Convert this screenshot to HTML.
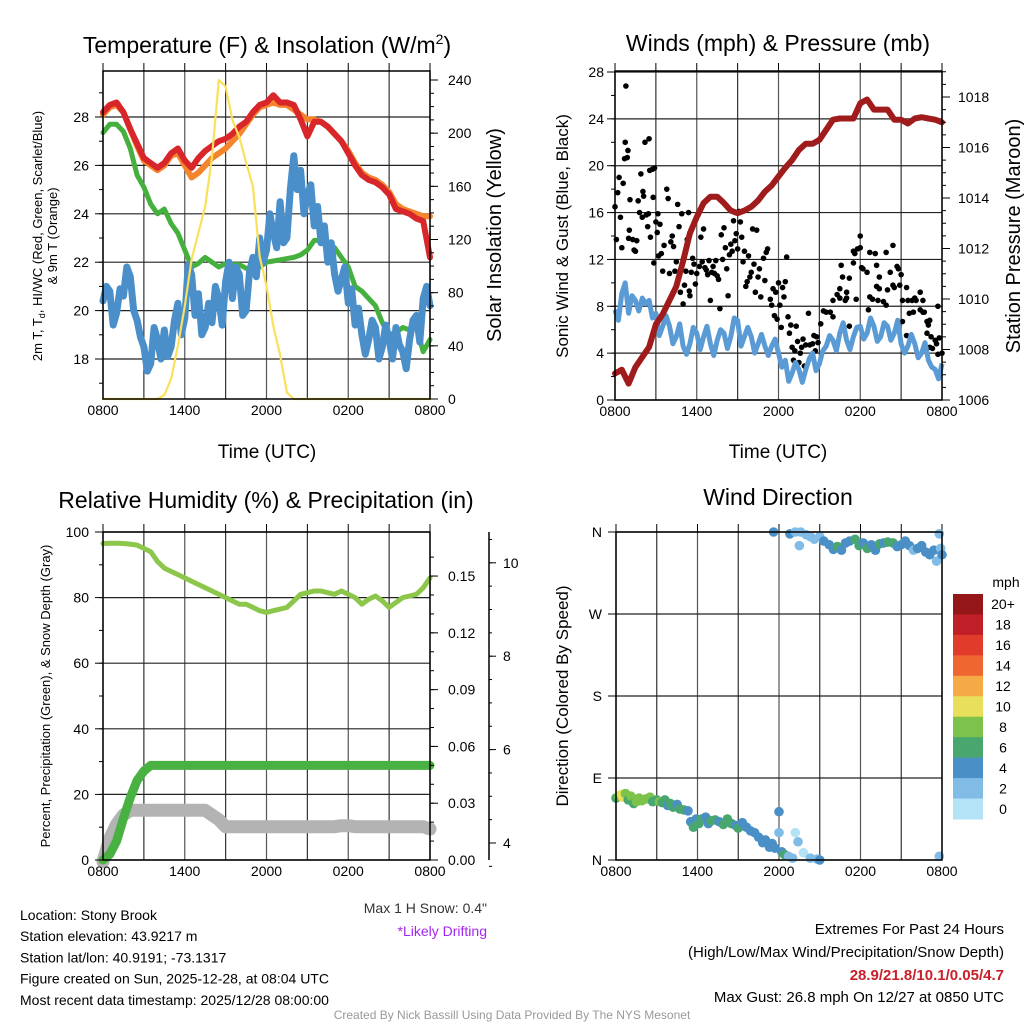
<!DOCTYPE html>
<html><head><meta charset="utf-8"><style>
html,body{margin:0;padding:0;background:#fff;}
svg{display:block;font-family:"Liberation Sans",sans-serif;}
</style></head><body>
<svg id="fig" width="1024" height="1024" viewBox="0 0 1024 1024" xmlns="http://www.w3.org/2000/svg">
<g id="layer"></g>
</svg>
<script>
// ---------- DATA ----------
const hours = [0,0.5,1,1.5,2,2.5,3,3.5,4,4.5,5,5.5,6,6.5,7,7.5,8,8.5,9,9.5,10,10.5,11,11.5,12,12.5,13,13.5,14,14.5,15,15.5,16,16.5,17,17.5,18,18.5,19,19.5,20,20.5,21,21.5,22,22.5,23,23.5,24];
const timeTickLabels = ["0800","1400","2000","0200","0800"];
const tempRed = [28.2,28.5,28.6,28.2,27.5,26.9,26.3,26.1,25.9,26.1,26.5,26.7,26.2,25.9,26.3,26.6,26.8,27.0,27.1,27.3,27.6,27.8,28.2,28.5,28.6,28.9,28.6,28.6,28.5,27.9,27.2,27.8,27.8,27.6,27.3,27.0,26.5,26.0,25.6,25.4,25.3,25.1,24.8,24.2,24.1,24.0,23.8,23.7,22.2];
const temp9m = [28.1,28.4,28.5,28.2,27.5,26.8,26.2,26.0,25.8,26.0,26.4,26.5,26.0,25.5,25.7,26.0,26.3,26.5,26.7,27.0,27.3,27.7,28.1,28.4,28.5,28.6,28.5,28.5,28.3,28.1,27.9,27.9,27.8,27.6,27.3,27.0,26.6,26.1,25.7,25.5,25.4,25.2,24.9,24.4,24.2,24.1,24.0,23.9,23.9];
const dewGreen = [27.35,27.7,27.7,27.4,26.7,25.6,25.1,24.4,24.0,24.2,23.6,23.2,22.5,21.8,21.95,22.2,22.0,21.8,21.95,21.9,21.9,21.75,21.7,21.8,22.0,22.05,22.1,22.15,22.2,22.3,22.5,22.9,22.9,22.8,22.6,22.2,21.8,21.0,20.8,20.5,20.2,19.5,19.0,19.1,19.3,19.2,19.3,18.3,18.8];
const chillBlue = [20.4,21.0,20.8,19.4,19.9,20.9,20.6,21.8,21.4,20.0,19.6,18.9,18.5,17.5,17.8,19.3,18.8,18.0,19.2,18.1,18.5,19.6,20.3,19.0,19.7,21.9,21.5,19.8,20.7,19.0,19.3,20.3,19.5,21.0,20.5,19.4,21.2,22.0,20.5,21.8,21.5,19.8,20.0,21.6,22.2,21.4,23.0,22.0,22.5,24.0,23.2,22.6,24.5,22.8,23.0,25.0,26.4,25.0,25.8,24.0,24.8,25.2,23.5,24.3,22.8,23.5,22.0,22.8,21.5,20.8,21.3,21.8,20.3,20.9,19.4,20.1,19.0,18.2,18.8,19.6,19.3,18.0,18.5,19.4,18.8,18.0,19.3,18.6,18.3,17.6,18.8,19.6,19.8,18.7,20.5,21.0,20.2];
const solar = [0,0,0,0,0,0,0,0,0,3,15,40,70,105,125,145,182,240,235,210,197,178,160,107,85,55,33,5,0,0,0,0,0,0,0,0,0,0,0,0,0,0,0,0,0,0,0,0,0];
const tempTicks = [18,20,22,24,26,28];
const solarTicks = [0,40,80,120,160,200,240];

const windSpeed = [7.7,6.8,9.1,10.0,7.4,8.9,8.5,7.6,8.7,8.2,8.5,7.0,7.4,5.5,6.3,7.2,6.3,4.8,5.4,6.5,4.6,3.9,4.8,6.2,5.7,4.3,5.4,6.3,4.8,3.8,5.1,6.0,5.7,4.4,5.4,7.0,6.8,4.6,5.4,6.2,5.4,4.0,4.8,5.6,4.6,3.8,4.6,5.2,4.0,2.8,3.4,1.6,2.3,3.2,2.6,1.5,2.6,3.5,4.0,2.5,3.1,4.2,4.6,5.5,5.1,4.2,5.7,6.6,5.1,4.3,5.4,6.2,6.3,5.2,5.7,7.0,6.3,5.0,5.4,6.6,6.3,5.1,5.7,6.8,4.8,4.0,4.6,5.6,4.8,3.6,4.0,4.9,3.4,2.8,2.6,1.8,3.1];
const pressure = [1007.05,1007.2,1006.65,1007.3,1007.7,1008.1,1009.0,1009.4,1009.95,1010.5,1011.5,1012.6,1013.25,1013.8,1014.05,1014.05,1013.8,1013.5,1013.4,1013.5,1013.65,1013.9,1014.25,1014.5,1014.85,1015.2,1015.5,1015.9,1016.15,1016.15,1016.3,1016.7,1017.1,1017.15,1017.15,1017.15,1017.75,1017.9,1017.5,1017.5,1017.5,1017.1,1017.1,1016.95,1017.15,1017.2,1017.15,1017.1,1017.0];
const gustHours = [0,0.1,0.2,0.3,0.4,0.5,0.6,0.7,0.75,0.8,0.9,0.95,1,1.05,1.1,1.3,1.4,1.5,1.6,1.7,1.8,1.9,2,2.05,2.1,2.2,2.3,2.4,2.45,2.5,2.55,2.6,2.75,2.8,2.85,2.9,3.0,3.1,3.15,3.2,3.3,3.4,3.5,3.6,3.8,3.9,4,4.1,4.2,4.3,4.4,4.5,4.6,4.7,4.8,4.9,5,5.1,5.2,5.3,5.4,5.45,5.5,5.6,5.7,5.8,5.9,6,6.1,6.2,6.3,6.4,6.5,6.6,6.7,6.8,6.9,7,7.1,7.2,7.3,7.4,7.5,7.6,7.7,7.8,7.9,8,8.1,8.2,8.3,8.4,8.5,8.6,8.7,8.8,8.9,9,9.1,9.2,9.3,9.4,9.5,9.6,9.7,9.8,9.9,10,10.1,10.2,10.3,10.4,10.5,10.6,10.7,10.9,11,11.1,11.2,11.4,11.5,11.6,11.7,11.8,11.9,12,12.1,12.2,12.3,12.4,12.5,12.6,12.7,12.8,12.9,13,13.1,13.2,13.3,13.4,13.5,13.6,13.7,13.8,13.9,14,14.2,14.3,14.5,14.6,14.7,14.8,14.9,15.1,15.3,15.5,15.8,16.0,16.0,16.3,16.5,16.5,16.6,16.7,16.9,17.0,17.0,17.2,17.2,17.5,17.5,17.6,17.7,17.8,18.0,18.0,18.1,18.2,18.5,18.6,18.7,18.7,18.9,19.1,19.2,19.2,19.3,19.4,19.4,19.7,19.9,19.9,20.0,20.2,20.4,20.4,20.5,20.7,20.8,20.9,21.0,21.1,21.1,21.4,21.4,21.5,21.6,21.8,21.9,22.0,22.1,22.4,22.4,22.6,22.6,22.7,22.9,22.9,23.0,23.1,23.1,23.2,23.3,23.5,23.6,23.7,23.7,23.8,24.0];
const gustValues = [16.5,13.7,17.7,19,15.6,13,18.5,20.6,22,26.8,20.7,21.3,13.8,14.5,17.1,13.7,12.8,12.7,13.6,17,16,19.3,15.6,17.8,17.4,22,15.8,14.8,15.9,22.3,19.6,13.9,19.7,17.3,11.7,19.8,15.2,14.3,15.9,12.3,15,12.5,11,13.2,18,17.2,10.8,13.5,14,13.1,11,11.8,16.7,14.8,9.2,15.9,8.2,9.8,11,13.7,16,9.3,8.9,10.9,12.1,11.6,9.9,10.8,15.8,11.4,13.9,11.8,14.6,11.3,11.1,10.7,11.9,8.5,10.9,11.4,10.8,11.9,10.6,10.3,7.8,14.1,12,14.7,13,11.2,8.9,12.4,13.3,12.7,15.3,13.6,14.2,12.9,16.1,15.2,13.9,11.8,12.7,9.7,10.1,12.3,10.5,10.9,14.6,11.6,9.2,14.5,10.5,11.2,8.8,12.1,10.2,12.6,12.9,8.6,8.1,9.5,7.2,9.2,6.9,10,8.1,6.2,9.6,8.8,10.1,12.2,7.1,5.7,6.4,4.5,3.4,4.2,6.3,5,3.2,4,4.5,5.2,2.9,4.7,7.4,4.7,4.8,5.5,4.2,5.4,4.9,6.5,7.6,7.5,7.5,7.1,8.5,9,9.5,8.7,11.5,10.5,8.5,8.7,9.2,6.3,10.4,12.7,11.7,12.5,8.6,12.9,14,13,11.3,11.2,10.9,7.7,8.8,12.6,8.6,12.5,9.7,11.5,8.5,9.5,10.5,8.4,12.6,8.1,9.4,10.9,9.8,13.2,9.6,11.4,11.2,9.8,10.7,8.5,6.7,9.6,5.5,8.5,7.4,8.5,7.5,8.7,8.5,9.2,7.7,8.5,7.5,7.5,5.7,6.7,6.4,4.5,6.8,5.4,4.4,5.1,4.8,3.9,8,5.3,4.0];
const windTicks = [0,4,8,12,16,20,24,28];
const pressTicks = [1006,1008,1010,1012,1014,1016,1018];

const rh = [96.5,96.6,96.6,96.5,96.3,96,95,94,91,89,88,87,86,85,84,83,82,81,80,79,78,78,77,76,75.5,76,76.5,77,79,81,81.5,82,82,81.5,81,82,81,80,78,79.5,80.5,79,77,78.5,80,80.5,81,83,86];
const precip = [0,0.003,0.01,0.022,0.033,0.042,0.047,0.05,0.05,0.05,0.05,0.05,0.05,0.05,0.05,0.05,0.05,0.05,0.05,0.05,0.05,0.05,0.05,0.05,0.05,0.05,0.05,0.05,0.05,0.05,0.05,0.05,0.05,0.05,0.05,0.05,0.05,0.05,0.05,0.05,0.05,0.05,0.05,0.05,0.05,0.05,0.05,0.05,0.05];
const snowDepth = [3.6,4.1,4.4,4.6,4.7,4.7,4.7,4.7,4.7,4.7,4.7,4.7,4.7,4.7,4.7,4.7,4.6,4.5,4.35,4.35,4.35,4.35,4.35,4.35,4.35,4.35,4.35,4.35,4.35,4.35,4.35,4.35,4.35,4.35,4.35,4.37,4.37,4.35,4.35,4.35,4.35,4.35,4.35,4.35,4.35,4.35,4.35,4.35,4.3];
const rhTicks = [0,20,40,60,80,100];
const precipTicks = ["0.00","0.03","0.06","0.09","0.12","0.15"];
const snowTicks = [4,6,8,10];

const dirHours = [0,0.2,0.4,0.5,0.7,0.9,1.1,1.3,1.5,1.7,1.9,2.2,2.5,2.7,3.0,3.2,3.4,3.6,3.8,4.0,4.2,4.5,4.7,5.0,5.3,5.5,5.7,5.9,6.1,6.3,6.6,6.8,7.0,7.3,7.6,7.9,8.2,8.5,8.8,9.0,9.3,9.6,9.9,10.2,10.5,10.8,11.0,11.3,11.5,11.7,12.0,12.0,12.2,12.4,12.7,13.0,13.2,13.4,13.8,14.3,14.8,15.0,23.8,11.6,12.8,13.2,13.6,14.0,14.3,14.6,13.5,15.0,15.3,15.7,16.0,16.3,16.6,16.9,17.2,17.6,17.9,18.2,18.5,18.8,19.1,19.4,19.7,20.0,20.4,20.7,21.0,21.3,21.6,21.9,22.2,22.5,22.8,23.1,23.4,23.6,23.8,23.9,24.0];
const dirDegrees = [68,70,72,69,73,66,70,62,64,68,65,67,69,64,66,64,63,66,60,62,58,61,56,55,54,42,36,45,40,45,47,40,43,44,42,39,45,40,38,35,41,36,32,30,25,19,22,14,18,13,30,53,9,6,4,2,30,20,8,2,1,0,4,360,358,360,360,357,355,352,345,355,350,346,341,344,340,348,350,352,345,348,342,346,340,347,348,349,348,344,346,350,345,340,342,345,338,335,340,328,358,342,335];
const dirSpeeds = [6,8,10,10,8,6,8,6,8,8,8,8,8,6,6,8,6,6,4,6,6,4,6,6,4,4,6,4,6,6,4,4,6,6,4,6,6,6,4,6,4,4,4,4,4,4,4,4,4,4,2,4,4,6,2,2,0,2,0,2,2,4,2,4,4,2,2,2,2,2,2,2,4,4,4,6,4,4,4,6,6,4,6,4,4,6,4,6,6,4,4,4,4,2,4,4,4,4,4,2,2,2,4];
const dirTickLabels = ["N","E","S","W","N"];
const speedBins = ["0","2","4","6","8","10","12","14","16","18","20+"];
const speedColors = ["#b4e2f6","#80bce6","#4a8fc6","#49a66f","#7cc24b","#e8e05a","#f5aa45","#ef6631","#e03b2b","#c01f27","#941619"];

// ---------- HELPERS ----------
const NS = "http://www.w3.org/2000/svg";
const root = document.getElementById("layer");
function mk(tag, attrs, parent){ const e=document.createElementNS(NS,tag); for(const k in attrs) e.setAttribute(k,attrs[k]); (parent||root).appendChild(e); return e; }
function txt(s, x, y, size, anchor, parent, extra){ const e=mk("text",Object.assign({x:x,y:y,"font-size":size,"text-anchor":anchor||"middle",fill:"#000"},extra||{}),parent); e.textContent=s; return e; }
function hx(x0,x1){ return h => x0 + h/24*(x1-x0); }
function timesFor(arr){ return arr.map((v,i)=>i*24/(arr.length-1)); }
function linePath(xs, ys, fx, fy){ let d=""; for(let i=0;i<xs.length;i++){ d+=(i?"L":"M")+fx(xs[i]).toFixed(1)+","+fy(ys[i]).toFixed(1); } return d; }

function frame(g, x0,x1,yT,yB, hLines){
  for(let k=0;k<=8;k++){ const x=x0+k*(x1-x0)/8;
    const v=mk("line",{x1:x,y1:yT,x2:x,y2:yB,stroke:(k%2?"#333":"#555"),"stroke-width":1.2},g);
    
    
    const t=mk("line",{x1:x,y1:yT-8,x2:x,y2:yT,stroke:"#000","stroke-width":1},g);
    
    
  }
  hLines.forEach(y=>{ const l=mk("line",{x1:x0,y1:y,x2:x1,y2:y,stroke:"#222","stroke-width":1.2},g);
    
     });
}
function border(g,x0,x1,yT,yB){ const r=mk("rect",{x:x0,y:yT,width:x1-x0,height:yB-yT,fill:"none",stroke:"#000","stroke-width":1.5},g);
  
   }
function xTicks(g,x0,x1,yB){ for(let k=0;k<5;k++){ const t=txt(timeTickLabels[k], x0+k*(x1-x0)/4, yB+16, 14, "middle", g);
  
   } }
function yTickMarks(g,x,ys,dir,len){ ys.forEach(y=>{ const t=mk("line",{x1:x,y1:y,x2:x+dir*len,y2:y,stroke:"#000","stroke-width":1},g);
  
   }); }

// ---------- PANEL 1 ----------
(function(){
  const g=mk("g",{});  
  const x0=103,x1=430,yT=71,yB=399; const X=hx(x0,x1);
  const Y=v=>359-(v-18)*24.2; const YR=v=>399-v*(319/240);
  frame(g,x0,x1,yT,yB,tempTicks.map(Y));
  const add=(arr,color,w,name,yf)=>{ const p=mk("path",{d:linePath(timesFor(arr),arr,X,yf||Y),fill:"none",stroke:color,"stroke-width":w,"stroke-linejoin":"round","stroke-linecap":"round"},g);
    
     };
  add(dewGreen,"#46b03f",5,"dewpoint-line");
  add(temp9m,"#f5852d",6,"temp-9m-line");
  add(tempRed,"#d8262a",6,"temp-2m-line");
  add(chillBlue,"#4a8fc9",7,"windchill-line");
  add(solar,"#fbe15a",2.2,"solar-line",YR);
  border(g,x0,x1,yT,yB);
  const minor=[]; for(let v=17;v<=29;v++) minor.push(Y(v));
  yTickMarks(g,x0,minor,-1,4); yTickMarks(g,x0,tempTicks.map(Y),-1,8);
  tempTicks.forEach(v=>{ const t=txt(String(v),x0-14,Y(v)+5,14,"end",g);   });
  const minR=[]; for(let v=0;v<=240;v+=10) minR.push(YR(v));
  yTickMarks(g,x1,minR,1,4); yTickMarks(g,x1,solarTicks.map(YR),1,8);
  solarTicks.forEach(v=>{ const t=txt(String(v),x1+18,YR(v)+5,14,"start",g);   });
  xTicks(g,x0,x1,yB);
  const xt=txt("Time (UTC)",267,458,19,"middle",g);  
  const ti=mk("text",{x:267,y:53,"font-size":23,"text-anchor":"middle"},g); ti.innerHTML='Temperature (F) &amp; Insolation (W/m<tspan font-size="14" dy="-9">2</tspan><tspan dy="9">)</tspan>';
   
  const yl=mk("text",{transform:"translate(42,236) rotate(-90)","font-size":13,"text-anchor":"middle"},g); yl.innerHTML='2m T, T<tspan font-size="9" dy="3">d</tspan><tspan dy="-3">, HI/WC (Red, Green, Scarlet/Blue)</tspan>';
   
  const yl2=txt("& 9m T (Orange)",0,0,13,"middle",g,{transform:"translate(57,236) rotate(-90)"});  
  const yr=txt("Solar Insolation (Yellow)",0,0,20,"middle",g,{transform:"translate(501,235) rotate(-90)"});  
})();

// ---------- PANEL 2 ----------
(function(){
  const g=mk("g",{});  
  const x0=615,x1=942,yT=71,yB=400; const X=hx(x0,x1);
  const Y=v=>400-v*(328/28); const YR=v=>400-(v-1006)*(303/12);
  frame(g,x0,x1,yT,yB,windTicks.map(Y));
  gustHours.forEach((h,i)=>{ const c=mk("circle",{cx:X(h),cy:Y(gustValues[i]),r:2.8,fill:"#000"},g);
    
     });
  const w=mk("path",{d:linePath(timesFor(windSpeed),windSpeed,X,Y),fill:"none",stroke:"#5b9bd5","stroke-width":5,"stroke-linejoin":"round"},g);
   
  const p=mk("path",{d:linePath(timesFor(pressure),pressure,X,YR),fill:"none",stroke:"#a01c1c","stroke-width":6,"stroke-linejoin":"round","stroke-linecap":"round"},g);
   
  border(g,x0,x1,yT,yB);
  const minor=[]; for(let v=0;v<=28;v+=2) minor.push(Y(v));
  yTickMarks(g,x0,minor,-1,4); yTickMarks(g,x0,windTicks.map(Y),-1,8);
  windTicks.forEach(v=>{ const t=txt(String(v),x0-11,Y(v)+5,14,"end",g);   });
  const minR=[]; for(let v=1006;v<=1019;v+=0.5) minR.push(YR(v));
  yTickMarks(g,x1,minR,1,4); yTickMarks(g,x1,pressTicks.map(YR),1,8);
  pressTicks.forEach(v=>{ const t=txt(String(v),x1+16,YR(v)+5,14,"start",g);   });
  xTicks(g,x0,x1,yB);
  const xt=txt("Time (UTC)",778,458,19,"middle",g);  
  const ti=txt("Winds (mph) & Pressure (mb)",778,51,23,"middle",g);  
  const yl=txt("Sonic Wind & Gust (Blue, Black)",0,0,17,"middle",g,{transform:"translate(568,236) rotate(-90)"});  
  const yr=txt("Station Pressure (Maroon)",0,0,20,"middle",g,{transform:"translate(1020,236) rotate(-90)"});  
})();

// ---------- PANEL 3 ----------
(function(){
  const g=mk("g",{});  
  const x0=103,x1=430,yT=532,yB=860; const X=hx(x0,x1);
  const Y=v=>860-v*3.28; const YP=v=>860-v*1893; const YS=v=>843-(v-4)*46.7;
  frame(g,x0,x1,yT,yB,rhTicks.map(Y));
  const s=mk("path",{d:linePath(timesFor(snowDepth),snowDepth,X,YS),fill:"none",stroke:"#b3b3b3","stroke-width":13,"stroke-linejoin":"round","stroke-linecap":"round"},g);
   
  const p=mk("path",{d:linePath(timesFor(precip),precip,X,YP),fill:"none",stroke:"#48b141","stroke-width":9,"stroke-linejoin":"round","stroke-linecap":"round"},g);
   
  const r=mk("path",{d:linePath(timesFor(rh),rh,X,Y),fill:"none",stroke:"#8cc64a","stroke-width":5,"stroke-linejoin":"round","stroke-linecap":"round"},g);
   
  border(g,x0,x1,yT,yB);
  const minor=[]; for(let v=0;v<=100;v+=10) minor.push(Y(v));
  yTickMarks(g,x0,minor,-1,4); yTickMarks(g,x0,rhTicks.map(Y),-1,8);
  rhTicks.forEach(v=>{ const t=txt(String(v),x0-14,Y(v)+5,14,"end",g);   });
  const minP=[]; for(let v=0;v<=0.165;v+=0.01) minP.push(YP(v));
  yTickMarks(g,x1,minP,1,4); yTickMarks(g,x1,precipTicks.map(v=>YP(parseFloat(v))),1,8);
  precipTicks.forEach(v=>{ const t=txt(v,x1+18,YP(parseFloat(v))+5,14,"start",g);   });
  const ax=mk("line",{x1:489,y1:532,x2:489,y2:860,stroke:"#000","stroke-width":1.5},g);  
  const minS=[]; for(let v=3.5;v<=10.5;v+=0.5) minS.push(YS(v));
  yTickMarks(g,489,minS,1,3); yTickMarks(g,489,snowTicks.map(YS),1,7);
  snowTicks.forEach(v=>{ const t=txt(String(v),503,YS(v)+5,14,"start",g);   });
  xTicks(g,x0,x1,yB);
  const ti=txt("Relative Humidity (%) & Precipitation (in)",266,508,23,"middle",g);  
  const yl=txt("Percent, Precipitation (Green), & Snow Depth (Gray)",0,0,13,"middle",g,{transform:"translate(50,696) rotate(-90)"});  
})();

// ---------- PANEL 4 ----------
(function(){
  const g=mk("g",{});  
  const x0=616,x1=942,yT=532,yB=860; const X=hx(x0,x1);
  const Y=d=>860-d*(328/360);
  const dTicks=[0,90,180,270,360];
  frame(g,x0,x1,yT,yB,dTicks.map(Y));
  dirHours.forEach((h,i)=>{ const bin=Math.min(10,Math.max(0,Math.round(dirSpeeds[i]/2)));
    const c=mk("circle",{cx:X(h),cy:Y(dirDegrees[i]),r:4.8,fill:speedColors[bin]},g);
    
     });
  border(g,x0,x1,yT,yB);
  yTickMarks(g,x0,dTicks.map(Y),-1,8);
  dTicks.forEach((d,i)=>{ const t=txt(dirTickLabels[i],x0-14,Y(d)+5,14,"end",g);   });
  xTicks(g,x0,x1,yB);
  const ti=txt("Wind Direction",778,505,23,"middle",g);  
  const yl=txt("Direction (Colored By Speed)",0,0,17,"middle",g,{transform:"translate(568,696) rotate(-90)"});  
  const cb=mk("g",{},g);  
  const bh=(819-594)/speedBins.length;
  speedBins.forEach((lab,i)=>{ const k=speedBins.length-1-i; const y=594+i*bh;
    const r=mk("rect",{x:953,y:y,width:30,height:bh+0.5,fill:speedColors[k]},cb);
    
    
    const t=txt(speedBins[k],1003,y+bh/2+5,14,"middle",cb);
    
     });
  const u=txt("mph",1006,587,14,"middle",cb);  
})();

// ---------- FOOTER TEXT ----------
(function(){
  const g=mk("g",{});  
  const lines=["Location: Stony Brook","Station elevation: 43.9217 m","Station lat/lon: 40.9191; -73.1317","Figure created on Sun, 2025-12-28, at 08:04 UTC","Most recent data timestamp: 2025/12/28 08:00:00"];
  lines.forEach((s,i)=>{ const t=txt(s,20,920+i*21.2,14,"start",g);   });
  const ms=txt('Max 1 H Snow: 0.4"',487,913,14,"end",g,{fill:"#333"});  
  const dr=txt("*Likely Drifting",487,936,14,"end",g,{fill:"#a526f0"});  
  const e1=txt("Extremes For Past 24 Hours",1004,934,15,"end",g);  
  const e2=txt("(High/Low/Max Wind/Precipitation/Snow Depth)",1004,957,15,"end",g);  
  const e3=txt("28.9/21.8/10.1/0.05/4.7",1004,980,15,"end",g,{fill:"#c8202a","font-weight":"bold"});  
  const e4=txt("Max Gust: 26.8 mph On 12/27 at 0850 UTC",1004,1002,15,"end",g);  
  const f=txt("Created By Nick Bassill Using Data Provided By The NYS Mesonet",512,1019,12,"middle",g,{fill:"#999"});  
})();
</script>
</body></html>
